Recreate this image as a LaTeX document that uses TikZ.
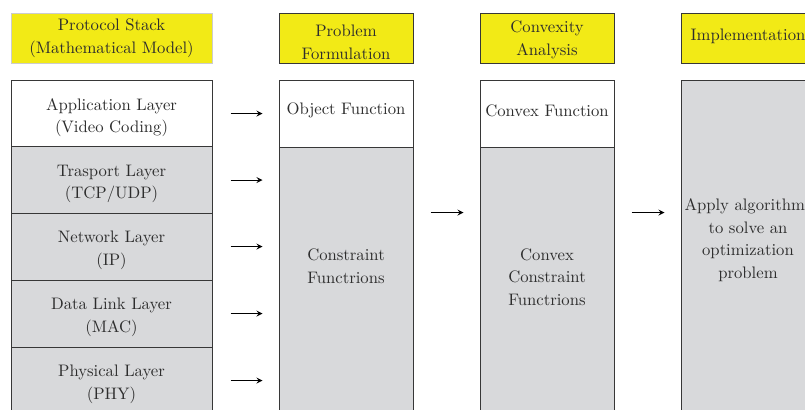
\documentclass[tikz,border=0pt]{standalone}
\usepackage{tikz}
\usetikzlibrary{positioning}
\definecolor{headyellow}{RGB}{242,234,22}
\definecolor{boxgray}{RGB}{216,217,219}
\definecolor{edgegray}{RGB}{55,55,55}
\definecolor{textgray}{RGB}{45,45,45}

\begin{document}
\begin{tikzpicture}[x = 0.6pt, y = -0.6pt, line width = 0.6pt,
  every node/.style = {text = textgray, align = center, inner sep = 0pt, font = \fontsize{10}{13.6}\selectfont},
  head/.style = {draw = edgegray, fill = headyellow, minimum width = 80.4pt, minimum height = 30pt},
  layer/.style = {draw = edgegray, fill = boxgray, minimum width = 120.6pt, minimum height = 40.2pt},
  colbox/.style = {draw = edgegray, fill = boxgray, minimum width = 80.4pt}]
\path[use as bounding box, clip] (0, 0) rectangle (805, 409);
% protocol stack
\node[head, draw = black!20, minimum width = 120.6pt] (hstack) at (111.5, 38) {Protocol Stack\\(Mathematical Model)};
\node[layer, fill = white, label = {[yshift = -2.4pt]center:{Application Layer\\(Video Coding)}}] (app) at (111.5, 113.5) {};
\node[layer, label = {[yshift = -2.4pt]center:{Trasport Layer\\(TCP/UDP)}}] (tra) at (111.5, 180) {};
\node[layer, label = {[yshift = -2.4pt]center:{Network Layer\\(IP)}}] (net) at (111.5, 246.5) {};
\node[layer, label = {[yshift = -2.4pt]center:{Data Link Layer\\(MAC)}}] (dll) at (111.5, 313.5) {};
\node[layer, label = {[yshift = -2.4pt]center:{Physical Layer\\(PHY)}}] (phy) at (111.5, 380.5) {};
% problem formulation
\node[head, label = {[yshift = -2.7pt]center:{Problem\\Formulation}}] (hprob) at (346, 38) {};
\node[colbox, fill = white, minimum height = 40.2pt, label = {[yshift = 1.8pt]center:Object Function}] (obj) at (346, 113.5) {};
\node[colbox, minimum height = 163.8pt] (cons) at (346, 283.5) {};
\node (constext) at (346, 266) {Constraint\\Functrions};
% convexity analysis
\node[head, label = {[yshift = -1.2pt]center:{Convexity\\Analysis}}] (hconv) at (547, 38) {};
\node[colbox, fill = white, minimum height = 40.2pt, label = {[yshift = 1.8pt]center:Convex Function}] (cobj) at (547, 113.5) {};
\node[colbox, minimum height = 163.8pt] (ccons) at (547, 283.5) {};
\node (ccontext) at (547, 277) {Convex\\Constraint\\Functrions};
% implementation
\node[head, label = {[yshift = 1.2pt]center:Implementation}] (himp) at (748, 38) {};
\node[colbox, minimum height = 204pt] (alg) at (748, 250) {};
\node (algtext) at (748, 240) {Apply algorithms\\to solve an\\optimization\\problem};
% arrows
\foreach \n in {app, tra, net, dll, phy}{\draw[-stealth] ([xshift = 10.8pt]\n.east) -- ([xshift = -9.6pt]\n.east -| cons.west);}
\draw[-stealth] ([xshift = 10.2pt]cons.east |- net.north) -- ([xshift = -9.6pt]ccons.west |- net.north);
\draw[-stealth] ([xshift = 10.2pt]ccons.east |- net.north) -- ([xshift = -9.6pt]alg.west |- net.north);
\end{tikzpicture}
\end{document}
